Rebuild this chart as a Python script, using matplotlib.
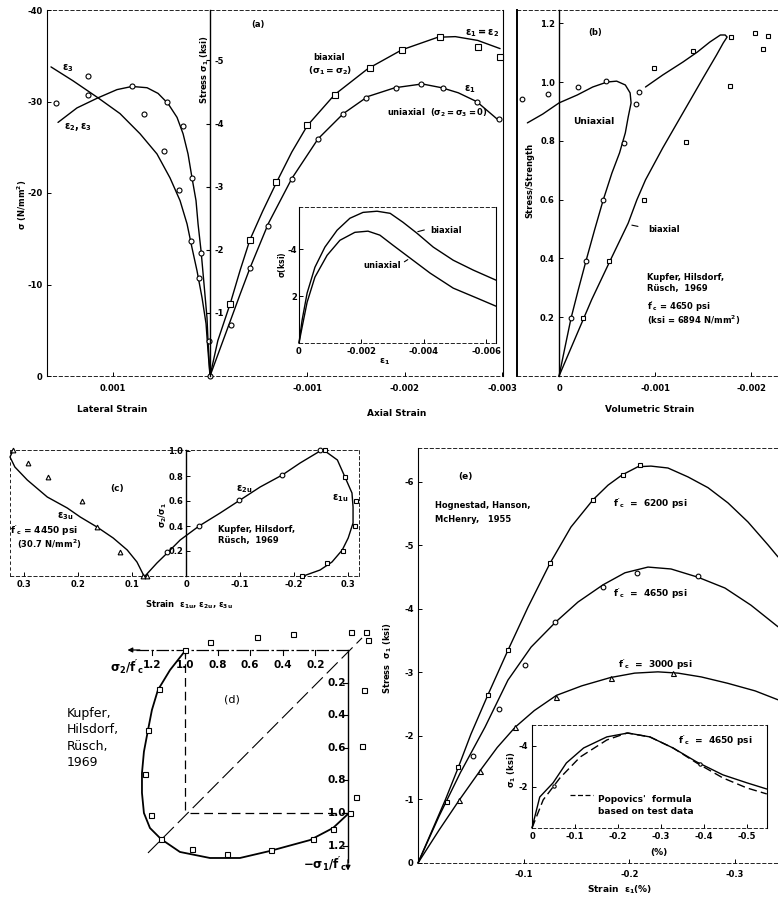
import matplotlib
matplotlib.use('Agg')
import matplotlib.pyplot as plt

plt.rcParams['font.family'] = ['DejaVu Sans']
plt.rcParams['font.size'] = 6
plt.rcParams['font.weight'] = 'bold'
plt.rcParams['mathtext.default'] = 'regular'

W, H = 778, 900
fig = plt.figure(figsize=(7.78, 9.0), dpi=100)

# ---------------- DATA ----------------
# (a) lateral strain (positive = tension), stress in ksi (negative = compression)
a_lat_bi_s = [0.001634, 0.001408, 0.001151, 0.000925, 0.000719, 0.000545, 0.000411, 0.000308, 0.000236, 0.000185, 0.000134, 0.000082, 0.000041, 0.000021, 0.0]
a_lat_bi_y = [-4.90, -4.68, -4.41, -4.16, -3.84, -3.52, -3.14, -2.78, -2.41, -2.03, -1.67, -1.24, -0.83, -0.40, 0.0]
a_lat_uni_s = [0.001562, 0.001367, 0.001151, 0.000956, 0.000802, 0.000647, 0.000534, 0.000432, 0.000339, 0.000277, 0.000226, 0.000185, 0.000144, 0.000123, 0.000092, 0.000062, 0.000031, 0.000021, 0.0]
a_lat_uni_y = [-4.02, -4.25, -4.41, -4.54, -4.59, -4.57, -4.48, -4.32, -4.10, -3.84, -3.52, -3.14, -2.78, -2.41, -1.98, -1.46, -0.92, -0.56, 0.0]
a_lat_pts_s = [0.00158, 0.00125, 0.00125, 0.00080, 0.00068, 0.00044, 0.00028, 0.00047, 0.000185, 0.00032, 0.0002, 0.000092, 0.000113, 0.00001, 0.0]
a_lat_pts_y = [-4.32, -4.76, -4.46, -4.60, -4.16, -4.35, -3.97, -3.56, -3.14, -2.95, -2.14, -1.95, -1.56, -0.56, 0.0]
# (a) axial strain
a_ax_bi_s = [0.0, -0.00008, -0.00021, -0.00031, -0.00041, -0.00054, -0.00068, -0.00084, -0.00100, -0.00128, -0.00162, -0.00197, -0.00234, -0.00252, -0.00275, -0.00298]
a_ax_bi_y = [0.0, -0.56, -1.16, -1.68, -2.16, -2.61, -3.06, -3.55, -3.97, -4.46, -4.87, -5.17, -5.37, -5.38, -5.32, -5.19]
a_ax_bi_pts_s = [-0.00021, -0.00041, -0.00068, -0.00100, -0.00128, -0.00164, -0.00197, -0.00236, -0.00275, -0.00298]
a_ax_bi_pts_y = [-1.14, -2.16, -3.07, -3.98, -4.46, -4.88, -5.17, -5.38, -5.22, -5.05]
a_ax_uni_s = [0.0, -0.0001, -0.00021, -0.00031, -0.00041, -0.0006, -0.00084, -0.00111, -0.00137, -0.00162, -0.0019, -0.00218, -0.00238, -0.00255, -0.00274, -0.00296]
a_ax_uni_y = [0.0, -0.42, -0.88, -1.30, -1.71, -2.42, -3.13, -3.76, -4.16, -4.43, -4.57, -4.63, -4.57, -4.49, -4.35, -4.06]
a_ax_uni_pts_s = [-0.00022, -0.00041, -0.00060, -0.00084, -0.00111, -0.00137, -0.00160, -0.00191, -0.00217, -0.00239, -0.00274, -0.00297]
a_ax_uni_pts_y = [-0.81, -1.71, -2.38, -3.12, -3.75, -4.16, -4.41, -4.57, -4.63, -4.57, -4.35, -4.08]
# (a) inset
ai_bi_s = [0.0, -0.0001, -0.00026, -0.00051, -0.00083, -0.00122, -0.00163, -0.00205, -0.0025, -0.00292, -0.00333, -0.00378, -0.0043, -0.00494, -0.00558, -0.00631]
ai_bi_y = [0.0, -0.98, -2.13, -3.23, -4.09, -4.81, -5.32, -5.57, -5.62, -5.53, -5.15, -4.68, -4.09, -3.53, -3.11, -2.68]
ai_uni_s = [0.0, -0.0001, -0.00026, -0.00051, -0.0009, -0.00131, -0.00179, -0.00221, -0.00259, -0.00301, -0.00356, -0.0042, -0.00494, -0.00571, -0.00631]
ai_uni_y = [0.0, -0.68, -1.74, -2.81, -3.74, -4.38, -4.72, -4.77, -4.60, -4.17, -3.62, -2.98, -2.34, -1.91, -1.57]

# (b) volumetric strain vs stress/strength
b_uni_s = [0.0, -0.00006, -0.000125, -0.0002, -0.00028, -0.00037, -0.00046, -0.00055, -0.00063, -0.00069, -0.00072, -0.00075, -0.00074, -0.00069, -0.0006, -0.0005, -0.00035, -0.00019, 0.0, 0.00017, 0.00033]
b_uni_y = [0.0, 0.095, 0.197, 0.293, 0.391, 0.497, 0.599, 0.69, 0.759, 0.827, 0.881, 0.929, 0.963, 0.99, 1.003, 1.0, 0.983, 0.956, 0.929, 0.891, 0.861]
b_uni_pts_s = [-0.000125, -0.00028, -0.00046, -0.00068, -0.0008, -0.00083, -0.00049, -0.0002, 0.00011, 0.00039]
b_uni_pts_y = [0.197, 0.391, 0.599, 0.793, 0.925, 0.966, 1.003, 0.983, 0.959, 0.942]
b_bi_s = [0.0, -0.00017, -0.00034, -0.00053, -0.00072, -0.00081, -0.0009, -0.00108, -0.00129, -0.0015, -0.00164, -0.00171, -0.00175, -0.00173, -0.00168, -0.00157, -0.00144, -0.00129, -0.00108, -0.0009]
b_bi_y = [0.0, 0.13, 0.26, 0.391, 0.52, 0.599, 0.667, 0.776, 0.895, 1.014, 1.092, 1.133, 1.153, 1.16, 1.16, 1.136, 1.102, 1.068, 1.024, 0.983]
b_bi_pts_s = [-0.00025, -0.00052, -0.00088, -0.00132, -0.00178, -0.00179, -0.00139, -0.00099, -0.00204, -0.00212, -0.00218]
b_bi_pts_y = [0.197, 0.391, 0.599, 0.796, 0.986, 1.153, 1.105, 1.048, 1.167, 1.112, 1.156]

# (c) strain vs sigma2/sigma1
c_e3_s = [0.32, 0.326, 0.317, 0.294, 0.257, 0.22, 0.196, 0.165, 0.135, 0.109, 0.091, 0.078]
c_e3_y = [1.008, 0.952, 0.872, 0.768, 0.632, 0.544, 0.472, 0.392, 0.304, 0.208, 0.112, 0.0]
c_e3_pts_s = [0.32, 0.293, 0.256, 0.193, 0.165, 0.122, 0.08, 0.072]
c_e3_pts_y = [1.008, 0.904, 0.792, 0.60, 0.392, 0.192, 0.0, 0.0]
c_e2_s = [0.076, 0.054, 0.035, 0.011, -0.024, -0.063, -0.1, -0.137, -0.178, -0.211, -0.248]
c_e2_y = [0.0, 0.104, 0.184, 0.288, 0.40, 0.504, 0.608, 0.712, 0.808, 0.904, 1.0]
c_e2_pts_s = [0.035, -0.024, -0.098, -0.178, -0.248]
c_e2_pts_y = [0.192, 0.40, 0.608, 0.808, 1.008]
c_e1_s = [-0.257, -0.28, -0.294, -0.307, -0.309, -0.309, -0.30, -0.289, -0.27, -0.248, -0.217]
c_e1_y = [1.0, 0.928, 0.792, 0.664, 0.552, 0.424, 0.304, 0.208, 0.112, 0.048, 0.0]
c_e1_pts_s = [-0.257, -0.294, -0.315, -0.313, -0.291, -0.261, -0.215]
c_e1_pts_y = [1.008, 0.792, 0.60, 0.40, 0.20, 0.104, 0.0]

# (d) biaxial strength envelope: u = sigma2/f'c, v = -sigma1/f'c
d_env_u = [1.0, 1.092, 1.166, 1.203, 1.227, 1.252, 1.264, 1.264, 1.252, 1.215, 1.147, 1.031, 0.847, 0.663, 0.479, 0.233, 0.092, 0.0]
d_env_v = [0.006, 0.123, 0.245, 0.368, 0.491, 0.624, 0.755, 0.877, 1.0, 1.092, 1.16, 1.239, 1.276, 1.276, 1.233, 1.166, 1.092, 1.006]
d_pts_u = [1.0, 0.847, 0.56, 0.34, -0.02, -0.11, -0.12, 1.16, 1.23, 1.245, 1.21, 1.147, 0.96, 0.74, 0.47, 0.215, 0.09, -0.01, -0.10, -0.085, -0.05]
d_pts_v = [0.0, -0.05, -0.08, -0.10, -0.11, -0.11, -0.06, 0.24, 0.49, 0.76, 1.01, 1.16, 1.22, 1.25, 1.23, 1.16, 1.10, 1.0, 0.245, 0.59, 0.90]
d_ticks = [0.2, 0.4, 0.6, 0.8, 1.0, 1.2]

# (e) strain (%) vs stress (ksi)
e_6200_s = [0.0, -0.013, -0.026, -0.038, -0.0501, -0.0662, -0.0851, -0.1041, -0.1249, -0.1447, -0.1656, -0.1798, -0.193, -0.2081, -0.2204, -0.2365, -0.2554, -0.2744, -0.2933, -0.3122, -0.3311, -0.3406]
e_6200_y = [0.0, -0.50, -1.00, -1.50, -2.03, -2.65, -3.35, -4.03, -4.72, -5.29, -5.72, -5.95, -6.11, -6.24, -6.25, -6.22, -6.08, -5.91, -5.67, -5.37, -5.01, -4.82]
e_6200_pts_s = [-0.027, -0.038, -0.066, -0.085, -0.125, -0.166, -0.194, -0.210]
e_6200_pts_y = [-0.96, -1.51, -2.64, -3.35, -4.72, -5.72, -6.11, -6.27]
e_4650_s = [0.0, -0.02, -0.04, -0.0634, -0.0851, -0.107, -0.1306, -0.1514, -0.175, -0.1958, -0.2176, -0.2394, -0.2649, -0.2904, -0.315, -0.3406]
e_4650_y = [0.0, -0.74, -1.42, -2.14, -2.88, -3.40, -3.80, -4.11, -4.38, -4.57, -4.66, -4.63, -4.50, -4.33, -4.06, -3.72]
e_4650_pts_s = [-0.052, -0.077, -0.101, -0.130, -0.175, -0.207, -0.265]
e_4650_pts_y = [-1.68, -2.43, -3.12, -3.80, -4.35, -4.57, -4.52]
e_3000_s = [0.0, -0.02, -0.039, -0.059, -0.075, -0.092, -0.11, -0.131, -0.155, -0.182, -0.205, -0.227, -0.246, -0.268, -0.293, -0.319, -0.3406]
e_3000_y = [0.0, -0.52, -0.99, -1.46, -1.82, -2.14, -2.40, -2.64, -2.79, -2.92, -2.99, -3.01, -2.99, -2.93, -2.83, -2.71, -2.57]
e_3000_pts_s = [-0.039, -0.059, -0.092, -0.131, -0.183, -0.241]
e_3000_pts_y = [-0.99, -1.45, -2.14, -2.61, -2.91, -2.99]
# (e) inset
ei_test_s = [0.0, -0.018, -0.049, -0.08, -0.12, -0.174, -0.223, -0.274, -0.328, -0.383, -0.444, -0.50, -0.546]
ei_test_y = [0.0, -1.51, -2.20, -3.17, -3.90, -4.44, -4.63, -4.44, -3.90, -3.22, -2.59, -2.20, -1.90]
ei_pop_s = [0.0, -0.026, -0.065, -0.112, -0.174, -0.221, -0.274, -0.328, -0.383, -0.444, -0.50, -0.546]
ei_pop_y = [0.0, -1.37, -2.44, -3.46, -4.29, -4.63, -4.44, -3.90, -3.17, -2.44, -1.95, -1.66]
ei_pts_s = [-0.05, -0.39]
ei_pts_y = [-2.05, -3.10]


# ---------------- HELPERS ----------------
def axbox(x0, y0, x1, y1, **kw):
    return fig.add_axes([x0 / W, 1 - y1 / H, (x1 - x0) / W, (y1 - y0) / H], **kw)


def ftext(px, py, s, **kw):
    kw.setdefault('ha', 'center')
    kw.setdefault('va', 'center')
    kw.setdefault('fontsize', 6)
    fig.text(px / W, 1 - py / H, s, **kw)


def pts(ax, x, y, m, ms=3.6):
    ax.plot(x, y, ls='none', marker=m, ms=ms, mfc='white', mec='black', mew=0.8,
            clip_on=False, zorder=5)


def curve(ax, x, y, **kw):
    kw.setdefault('color', 'black')
    kw.setdefault('lw', 1.0)
    ax.plot(x, y, solid_capstyle='round', solid_joinstyle='round', clip_on=False, **kw)


DASH = (0, (4, 3))


def style(ax, dashed=('top', 'bottom'), hidden=()):
    for s in dashed:
        ax.spines[s].set_linestyle(DASH)
        ax.spines[s].set_linewidth(0.6)
    for s in hidden:
        ax.spines[s].set_visible(False)
    ax.tick_params(direction='in', length=3, width=0.7, labelsize=6, pad=3)


# ---------------- PANEL (a) ----------------
axa = axbox(47, 10, 503, 376)
axa.set_xlim(0.001675, -0.00301)
axa.set_ylim(0, -5.80)
style(axa)
nmm = [0, 10, 20, 30, 40]
axa.set_yticks([-n / 6.894 for n in nmm])
axa.set_yticklabels(['0', '-10', '-20', '-30', '-40'])
axa.set_xticks([0.001, -0.001, -0.002, -0.003])
axa.set_xticklabels(['0.001', '-0.001', '-0.002', '-0.003'])
axa.tick_params(axis='x', pad=6)

axa2 = axa.twinx()
axa2.set_ylim(0, -5.80)
for s in ['top', 'bottom', 'left']:
    axa2.spines[s].set_visible(False)
axa2.spines['right'].set_position(('data', 0.0))
axa2.spines['right'].set_linewidth(1.0)
axa2.set_yticks([-1, -2, -3, -4, -5])
axa2.set_yticklabels(['-1', '-2', '-3', '-4', '-5'])
axa2.tick_params(axis='y', direction='in', length=3, labelsize=6, pad=3)

curve(axa, a_lat_bi_s, a_lat_bi_y)
curve(axa, a_lat_uni_s, a_lat_uni_y)
curve(axa, a_ax_bi_s, a_ax_bi_y)
curve(axa, a_ax_uni_s, a_ax_uni_y)
pts(axa, a_lat_pts_s, a_lat_pts_y, 'o')
pts(axa, a_ax_bi_pts_s, a_ax_bi_pts_y, 's', 3.8)
pts(axa, a_ax_uni_pts_s, a_ax_uni_pts_y, 'o')

ftext(68, 68, r'$\epsilon_3$', fontsize=7)
ftext(78, 127, r'$\epsilon_2,\epsilon_3$', fontsize=7)
ftext(258, 24, '(a)')
ftext(482, 33, r'$\epsilon_1 = \epsilon_2$', fontsize=7)
ftext(329, 57, 'biaxial')
ftext(330, 71, r'($\sigma_1=\sigma_2$)', fontsize=6.5)
ftext(470, 89, r'$\epsilon_1$', fontsize=7)
ftext(437, 113, r'uniaxial  ($\sigma_2=\sigma_3=0$)', fontsize=6)
ftext(205, 70, r'Stress $\sigma_1$ (ksi)', rotation=90)
ftext(22, 205, r'$\sigma$ (N/mm$^2$)', rotation=90)
ftext(112, 410, 'Lateral Strain', fontsize=6.5)
ftext(397, 413, 'Axial Strain', fontsize=6.5)
ftext(650, 410, 'Volumetric Strain', fontsize=6.5)

# inset (a)
axai = axbox(299, 207, 496, 343)
axai.set_facecolor('white')
axai.set_xlim(0, -0.00631)
axai.set_ylim(0, -5.80)
style(axai)
axai.tick_params(axis='y', pad=1.5)
axai.set_xticks([0, -0.002, -0.004, -0.006])
axai.set_xticklabels(['0', '-0.002', '-0.004', '-0.006'])
axai.set_yticks([-2, -4])
axai.set_yticklabels(['2', '-4'])
curve(axai, ai_bi_s, ai_bi_y)
curve(axai, ai_uni_s, ai_uni_y)
ftext(446, 231, 'biaxial')
ftext(382, 266, 'uniaxial')
axai.annotate('', xy=(-0.00372, -4.72), xytext=(-0.0041, -4.85),
              arrowprops=dict(arrowstyle='-', lw=0.8, color='k'))
axai.annotate('', xy=(-0.00356, -3.62), xytext=(-0.00330, -3.40),
              arrowprops=dict(arrowstyle='-', lw=0.8, color='k'))
ftext(282, 265, r'$\sigma$(ksi)', rotation=90, fontsize=5.5)
ftext(385, 362, r'$\epsilon_1$', fontsize=6.5)

# ---------------- PANEL (b) ----------------
axb = axbox(517, 10, 778, 376)
axb.set_xlim(0.000438, -0.00228)
axb.set_ylim(0, 1.245)
style(axb, hidden=('right',))
axb.spines['left'].set_position(('data', 0.0))
axb.spines['left'].set_linewidth(1.0)
axb.plot([0, 0], [0, 1], transform=axb.transAxes, color='black', lw=1.4, clip_on=False)
axb.set_yticks([0.2, 0.4, 0.6, 0.8, 1.0, 1.2])
axb.set_yticklabels(['0.2', '0.4', '0.6', '0.8', '1.0', '1.2'])
axb.set_xticks([0, -0.001, -0.002])
axb.set_xticklabels(['0', '-0.001', '-0.002'])
axb.tick_params(axis='x', pad=6)
curve(axb, b_uni_s, b_uni_y)
curve(axb, b_bi_s, b_bi_y)
pts(axb, b_uni_pts_s, b_uni_pts_y, 'o', 3.4)
pts(axb, b_bi_pts_s, b_bi_pts_y, 's', 3.4)
ftext(595, 33, '(b)')
ftext(594, 122, 'Uniaxial', fontsize=6.5)
ftext(664, 229, 'biaxial')
axb.annotate('', xy=(-0.00073, 0.515), xytext=(-0.00085, 0.507),
             arrowprops=dict(arrowstyle='-', lw=0.8, color='k'))
ftext(647, 278, 'Kupfer, Hilsdorf,', ha='left')
ftext(647, 289, 'Rüsch,  1969', ha='left')
ftext(647, 307, r"$f'_c$ = 4650 psi", ha='left')
ftext(647, 320, r'(ksi = 6894 N/mm$^2$)', ha='left')
ftext(530, 180, 'Stress/Strength', rotation=90)

# ---------------- PANEL (c) ----------------
axc = axbox(10, 450, 359, 576)
axc.set_xlim(0.326, -0.32)
axc.set_ylim(0, 1.008)
style(axc, dashed=('top', 'bottom', 'right'))
axc.spines['left'].set_position(('data', 0.0))
axc.spines['left'].set_linewidth(1.0)
axc.plot([0, 0], [0, 1], transform=axc.transAxes, color='black', lw=0.6,
         ls=DASH, clip_on=False)
axc.set_yticks([0.2, 0.4, 0.6, 0.8, 1.0])
axc.set_yticklabels(['0.2', '0.4', '0.6', '0.8', '1.0'])
axc.set_xticks([0.3, 0.2, 0.1, 0, -0.1, -0.2, -0.3])
axc.set_xticklabels(['0.3', '0.2', '0.1', '0', '-0.1', '-0.2', '0.3'])
axc.tick_params(axis='y', pad=2)
curve(axc, c_e3_s, c_e3_y)
curve(axc, c_e2_s, c_e2_y)
curve(axc, c_e1_s, c_e1_y)
pts(axc, c_e3_pts_s, c_e3_pts_y, '^', 3.4)
pts(axc, c_e2_pts_s, c_e2_pts_y, 'o', 3.4)
pts(axc, c_e1_pts_s, c_e1_pts_y, 's', 3.2)
ftext(117, 489, '(c)', fontsize=6.5)
ftext(65, 516, r'$\epsilon_{3u}$', fontsize=7)
ftext(10, 531, r"$f'_c$ = 4450 psi", ha='left', fontsize=6.5)
ftext(17, 544, r'(30.7 N/mm$^2$)', ha='left')
ftext(244, 489, r'$\epsilon_{2u}$', fontsize=7)
ftext(340, 498, r'$\epsilon_{1u}$', fontsize=7)
ftext(218, 529, 'Kupfer, Hilsdorf,', ha='left')
ftext(218, 541, 'Rüsch,  1969', ha='left')
ftext(163, 515, r'$\sigma_2/\sigma_1$', rotation=90)
ftext(189, 605, r'Strain  $\epsilon_{1u}$, $\epsilon_{2u}$, $\epsilon_{3u}$')

# ---------------- PANEL (d) ----------------
axd = axbox(100, 615, 385, 885)
axd.set_xlim((348 - 100) / 163, (348 - 385) / 163)
axd.set_ylim((885 - 650) / 163, (615 - 650) / 163)
axd.axis('off')
axd.plot([1.30, 0], [0, 0], color='black', lw=0.9, ls=(0, (10, 2, 2, 2)))
axd.annotate('', xy=(1.37, 0), xytext=(1.26, 0),
             arrowprops=dict(arrowstyle='-|>', color='k', lw=0.9, mutation_scale=7))
axd.plot([0, 0], [0, 1.30], color='black', lw=1.0)
axd.annotate('', xy=(0, 1.37), xytext=(0, 1.27),
             arrowprops=dict(arrowstyle='-|>', color='k', lw=0.9, mutation_scale=7))
for t in d_ticks:
    axd.plot([t, t], [0, 0.03], color='black', lw=0.8)
    axd.plot([0, 0.03], [t, t], color='black', lw=0.8)
    axd.text(t, 0.09, f'{t:.1f}', ha='center', va='center', fontsize=7.5)
    axd.text(0.012, t, f'{t:.1f}', ha='right', va='center', fontsize=7.5)
axd.plot([1.0, 1.0], [0, 1.0], color='black', lw=0.9, ls=(0, (7, 4)))
axd.plot([0.97, 0], [1.0, 1.0], color='black', lw=0.9, ls=(0, (7, 4)))
axd.plot([1.227, -0.086], [1.245, -0.074], color='black', lw=0.8, ls=(0, (14, 5)))
curve(axd, d_env_u, d_env_v, lw=1.3)
pts(axd, d_pts_u, d_pts_v, 's', 3.6)
ftext(127, 668, r"$\sigma_2/f'_c$", fontsize=8.5)
ftext(325, 865, r"$-\sigma_1/f'_c$", fontsize=8.5)
ftext(232, 700, '(d)', fontsize=8, fontweight='normal')
ftext(67, 738, 'Kupfer,\nHilsdorf,\nRüsch,\n1969', ha='left', fontsize=9,
      fontweight='normal', linespacing=1.35)

# ---------------- PANEL (e) ----------------
axe = axbox(418, 448, 778, 863)
axe.set_xlim(0, -0.3406)
axe.set_ylim(0, -6.535)
style(axe, dashed=('top', 'bottom', 'right'))
axe.set_yticks([0, -1, -2, -3, -4, -5, -6])
axe.set_yticklabels(['0', '-1', '-2', '-3', '-4', '-5', '-6'])
axe.set_xticks([-0.1, -0.2, -0.3])
axe.set_xticklabels(['-0.1', '-0.2', '-0.3'])
axe.tick_params(axis='x', pad=5)
curve(axe, e_6200_s, e_6200_y)
curve(axe, e_4650_s, e_4650_y)
curve(axe, e_3000_s, e_3000_y)
pts(axe, e_6200_pts_s, e_6200_pts_y, 's', 3.4)
pts(axe, e_4650_pts_s, e_4650_pts_y, 'o', 3.4)
pts(axe, e_3000_pts_s, e_3000_pts_y, '^', 3.6)
ftext(465, 477, '(e)', fontsize=6.5)
ftext(435, 506, 'Hognestad, Hanson,', ha='left')
ftext(435, 519, 'McHenry,   1955', ha='left')
ftext(613, 504, r"$f'_c$  =  6200 psi", ha='left', fontsize=6.5)
ftext(613, 594, r"$f'_c$  =  4650 psi", ha='left', fontsize=6.5)
ftext(618, 665, r"$f'_c$  =  3000 psi", ha='left', fontsize=6.5)
ftext(388, 658, r'Stress  $\sigma_1$ (ksi)', rotation=90)
ftext(620, 890, r'Strain  $\epsilon_1$(%)', fontsize=6.5)

# inset (e)
axei = axbox(532, 725, 767, 828)
axei.set_facecolor('white')
axei.set_xlim(0, -0.5465)
axei.set_ylim(0, -5.02)
style(axei)
axei.set_xticks([0, -0.1, -0.2, -0.3, -0.4, -0.5])
axei.set_xticklabels(['0', '-0.1', '-0.2', '-0.3', '-0.4', '-0.5'])
axei.set_yticks([-2, -4])
axei.set_yticklabels(['-2', '-4'])
curve(axei, ei_test_s, ei_test_y)
curve(axei, ei_pop_s, ei_pop_y, ls=(0, (6, 3)))
pts(axei, ei_pts_s, ei_pts_y, 'o', 2.4)
axei.plot([0.16, 0.26], [0.32, 0.32], transform=axei.transAxes, color='black',
          lw=0.9, ls=(0, (4, 2)))
ftext(678, 741, r"$f'_c$  =  4650 psi", ha='left', fontsize=6.5)
ftext(598, 799, "Popovics'  formula", ha='left', fontsize=6.5)
ftext(598, 811, 'based on test data', ha='left', fontsize=6.5)
ftext(512, 770, r'$\sigma_1$ (ksi)', rotation=90)
ftext(659, 852, '(%)', fontsize=6.5)

fig.savefig('out.png', dpi=100, facecolor='white')
